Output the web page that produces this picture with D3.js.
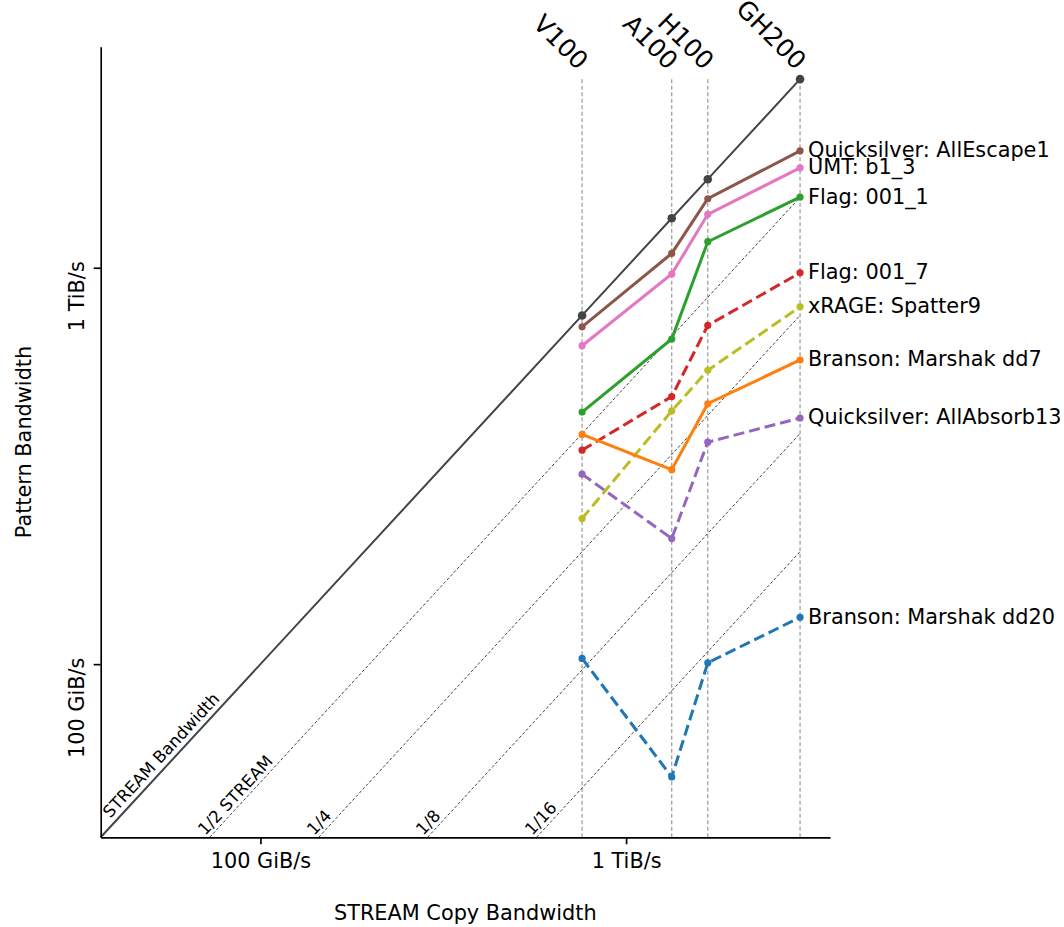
<!DOCTYPE html>
<html>
<head>
<meta charset="utf-8">
<script src="https://cdn.jsdelivr.net/npm/d3@7"></script>
<style>
  html, body { margin: 0; padding: 0; background: #fff; }
  svg { display: block; }
</style>
</head>
<body>
<script>
// ---------------- DATA (GiB/s) ----------------
const gpus = ["V100", "A100", "H100", "GH200"];
const streamCopy = [774, 1369, 1722, 3097];

const seriesNames = [
  "Quicksilver: AllEscape1",
  "UMT: b1_3",
  "Flag: 001_1",
  "Flag: 001_7",
  "xRAGE: Spatter9",
  "Branson: Marshak dd7",
  "Quicksilver: AllAbsorb13",
  "Branson: Marshak dd20"
];
const quicksilverAllEscape1 = [724, 1114, 1535, 2034];
const umtB1_3 = [648, 987, 1401, 1841];
const flag001_1 = [439, 674, 1193, 1550];
const flag001_7 = [351, 481, 730, 994];
const xrageSpatter9 = [235, 442, 561, 814];
const bransonMarshakDd7 = [385, 313, 461, 596];
const quicksilverAllAbsorb13 = [305, 209, 368, 424];
const bransonMarshakDd20 = [103.4, 51.6, 100.8, 131.6];

const streamFractions = [2, 4, 8, 16];
const fractionLabels = ["1/2 STREAM", "1/4", "1/8", "1/16"];

const xTicks = [100, 1024];
const xTickLabels = ["100 GiB/s", "1 TiB/s"];
const yTicks = [100, 1024];
const yTickLabels = ["100 GiB/s", "1 TiB/s"];
const axisRange = [36.2, 3747];

// ---------------- STYLE ----------------
const seriesValues = [quicksilverAllEscape1, umtB1_3, flag001_1, flag001_7,
  xrageSpatter9, bransonMarshakDd7, quicksilverAllAbsorb13, bransonMarshakDd20];
const seriesColors = ["#8c564b", "#e377c2", "#2ca02c", "#d62728",
  "#bcbd22", "#ff7f0e", "#9467bd", "#1f77b4"];
const seriesDashed = [false, false, false, true, true, false, true, true];

const W = 1064, H = 927;
const FONT = "'DejaVu Sans', 'Liberation Sans', sans-serif";
const FS = 20.83;

const svg = d3.select("body").append("svg")
  .attr("width", W).attr("height", H)
  .style("font-family", FONT);

const x = d3.scaleLog().domain(axisRange).range([100.7, 830]);
const y = d3.scaleLog().domain(axisRange).range([837.3, 46.7]);

const lo = axisRange[0];
const maxStream = d3.max(streamCopy);

// vertical GPU guide lines
svg.append("g").selectAll("line").data(streamCopy).join("line")
  .attr("x1", d => x(d)).attr("x2", d => x(d))
  .attr("y1", y(maxStream)).attr("y2", y(lo))
  .attr("stroke", "#999").attr("stroke-width", 1.2)
  .attr("stroke-dasharray", "4,2.5");

// fractional STREAM diagonals
svg.append("g").selectAll("line").data(streamFractions).join("line")
  .attr("x1", k => x(lo * k)).attr("y1", y(lo))
  .attr("x2", x(maxStream)).attr("y2", k => y(maxStream / k))
  .attr("stroke", "#444").attr("stroke-width", 1)
  .attr("stroke-dasharray", "3,2");

// STREAM line
const line = d3.line().x(d => x(d[0])).y(d => y(d[1]));
const streamPts = [[lo, lo]].concat(streamCopy.map(s => [s, s]));
svg.append("path").datum(streamPts)
  .attr("d", line).attr("fill", "none")
  .attr("stroke", "#444").attr("stroke-width", 2);

// series
seriesValues.forEach((vals, i) => {
  const pts = vals.map((v, j) => [streamCopy[j], v]);
  svg.append("path").datum(pts)
    .attr("d", line).attr("fill", "none")
    .attr("stroke", seriesColors[i]).attr("stroke-width", 3)
    .attr("stroke-dasharray", seriesDashed[i] ? "11,5" : null);
  svg.append("g").selectAll("circle").data(pts).join("circle")
    .attr("cx", d => x(d[0])).attr("cy", d => y(d[1])).attr("r", 3.6)
    .attr("fill", seriesColors[i]);
  svg.append("text")
    .attr("x", x(streamCopy[3]) + 8)
    .attr("y", y(vals[3]) + 6.5)
    .attr("font-size", FS).attr("fill", "#000")
    .text(seriesNames[i]);
});

// STREAM dots
svg.append("g").selectAll("circle").data(streamCopy).join("circle")
  .attr("cx", d => x(d)).attr("cy", d => y(d)).attr("r", 4.3)
  .attr("fill", "#444");

// diagonal labels
const ang = Math.atan2(y(100) - y(1000), x(1000) - x(100)) * 180 / Math.PI;
svg.append("text")
  .attr("transform", `translate(${x(lo)},${y(lo)}) rotate(${-ang})`)
  .attr("x", 20).attr("y", -5.5)
  .attr("font-size", 16.67).text("STREAM Bandwidth");
streamFractions.forEach((k, i) => {
  svg.append("text")
    .attr("transform", `translate(${x(lo * k)},${y(lo)}) rotate(${-ang})`)
    .attr("x", -2).attr("y", -4)
    .attr("font-size", 16.67).text(fractionLabels[i]);
});

// GPU labels
gpus.forEach((g, i) => {
  svg.append("text")
    .attr("transform", `translate(${x(streamCopy[i]) - 4.5},71) rotate(45)`)
    .attr("text-anchor", "end")
    .attr("font-size", 25).text(g);
});

// axes
const xAxis = svg.append("g")
  .attr("transform", `translate(0,${y(lo)})`)
  .call(d3.axisBottom(x).tickValues(xTicks)
    .tickFormat((d, i) => xTickLabels[i]).tickSize(7).tickSizeOuter(0).tickPadding(9.2));
const yAxis = svg.append("g")
  .attr("transform", `translate(${x(lo)},0)`)
  .call(d3.axisLeft(y).tickValues(yTicks)
    .tickFormat((d, i) => yTickLabels[i]).tickSize(7).tickSizeOuter(0));

[xAxis, yAxis].forEach(a => {
  a.select(".domain").attr("stroke", "#000").attr("stroke-width", 1.67);
  a.selectAll(".tick line").attr("stroke", "#000").attr("stroke-width", 1.67);
  a.selectAll(".tick text").attr("font-size", FS).attr("fill", "#000")
    .attr("font-family", FONT);
});
yAxis.selectAll(".tick text")
  .attr("x", 0).attr("dy", null).attr("y", 0)
  .attr("text-anchor", "end")
  .attr("transform", "translate(-17.2,-7) rotate(-90)");

// axis titles
svg.append("text")
  .attr("x", (x.range()[0] + x.range()[1]) / 2).attr("y", 920)
  .attr("text-anchor", "middle").attr("font-size", FS)
  .text("STREAM Copy Bandwidth");
svg.append("text")
  .attr("transform", `translate(31,${(y.range()[0] + y.range()[1]) / 2}) rotate(-90)`)
  .attr("text-anchor", "middle").attr("font-size", FS)
  .text("Pattern Bandwidth");
</script>
</body>
</html>
